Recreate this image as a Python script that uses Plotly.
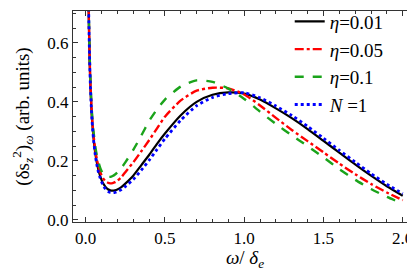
import plotly.graph_objects as go

x = [0.015, 0.0175, 0.02, 0.025, 0.03, 0.035, 0.04, 0.045, 0.05, 0.06, 0.07, 0.08, 0.09,
     0.1, 0.11, 0.125, 0.14, 0.155, 0.17, 0.185, 0.2, 0.225, 0.25, 0.3, 0.35, 0.4, 0.45,
     0.5, 0.6, 0.7, 0.8, 0.9, 1.0, 1.1, 1.2, 1.3, 1.4, 1.5, 1.6, 1.7, 1.8, 1.9, 2.0]

eta_001 = [0.90, 0.77, 0.675, 0.54, 0.45, 0.39, 0.34, 0.305, 0.275, 0.228, 0.195, 0.17, 0.151,
           0.136, 0.124, 0.112, 0.104, 0.1, 0.099, 0.1, 0.103, 0.111, 0.123, 0.15, 0.185, 0.22, 0.258,
           0.293, 0.355, 0.400, 0.424, 0.432, 0.428, 0.408, 0.378, 0.345, 0.308, 0.268, 0.228, 0.188,
           0.150, 0.114, 0.082]

eta_005 = [0.91, 0.78, 0.685, 0.55, 0.46, 0.40, 0.35, 0.315, 0.285, 0.24, 0.207, 0.183, 0.165,
           0.151, 0.141, 0.131, 0.126, 0.124, 0.125, 0.128, 0.133, 0.145, 0.162, 0.195, 0.232, 0.27, 0.31,
           0.35, 0.405, 0.438, 0.448, 0.446, 0.425, 0.388, 0.346, 0.305, 0.267, 0.229, 0.191, 0.155,
           0.122, 0.093, 0.067]

eta_01 = [0.92, 0.79, 0.695, 0.56, 0.47, 0.41, 0.36, 0.325, 0.297, 0.252, 0.22, 0.197, 0.179,
          0.166, 0.157, 0.149, 0.146, 0.146, 0.149, 0.154, 0.161, 0.176, 0.195, 0.237, 0.285, 0.335, 0.375,
          0.408, 0.452, 0.473, 0.468, 0.445, 0.41, 0.367, 0.325, 0.287, 0.25, 0.212, 0.172, 0.136,
          0.105, 0.078, 0.055]

n_1 = [0.90, 0.77, 0.675, 0.54, 0.45, 0.388, 0.337, 0.3, 0.27, 0.222, 0.188, 0.163, 0.144,
       0.129, 0.117, 0.105, 0.097, 0.093, 0.092, 0.093, 0.096, 0.103, 0.113, 0.137, 0.168, 0.202, 0.239,
       0.275, 0.338, 0.387, 0.415, 0.428, 0.431, 0.414, 0.386, 0.354, 0.317, 0.277, 0.236, 0.196,
       0.157, 0.121, 0.089]

names = ["<i>η</i>=0.01", "<i>η</i>=0.05", "<i>η</i>=0.1", "<i>N</i> =1"]
series = [eta_001, eta_005, eta_01, n_1]
colors = ["#000000", "#ff0000", "#1aa31a", "#0000ff"]
dashes = ["solid", "dashdot", "dash", "dot"]
widths = [2.2, 2.4, 2.4, 2.8]

FONT = "Liberation Serif"

fig = go.Figure()
for nm, ys, c, d, w in zip(names, series, colors, dashes, widths):
    fig.add_trace(go.Scatter(x=x, y=ys, mode="lines", name=nm,
                             line=dict(color=c, dash=d, width=w, shape="spline", smoothing=0.6)))

axis_common = dict(showline=True, linecolor="#333", linewidth=1.2, mirror="allticks",
                   ticks="inside", ticklen=5, tickcolor="#333", showgrid=False, zeroline=False,
                   automargin=False,
                   tickfont=dict(family=FONT, size=17, color="#000"))

fig.update_xaxes(range=[-0.08, 2.09], tickvals=[0, 0.5, 1.0, 1.5, 2.0],
                 ticktext=["0.0", "0.5", "1.0", "1.5", "2.0"],
                 minor=dict(dtick=0.1, ticks="inside", ticklen=3, tickcolor="#333"),
                 title=dict(text="<i>ω</i>/ <i>δ<sub>e</sub></i>", font=dict(family=FONT, size=19, color="#000"), standoff=4),
                 **axis_common)
fig.update_yaxes(range=[-0.007, 0.708], tickvals=[0, 0.2, 0.4, 0.6],
                 ticktext=["0.0", "0.2", "0.4", "0.6"],
                 minor=dict(dtick=0.05, ticks="inside", ticklen=3, tickcolor="#333"),
                 title=dict(text="(δs<sub><i>z</i></sub><sup>2</sup>)<sub><i>ω</i></sub> (arb. units)",
                            font=dict(family=FONT, size=19, color="#000"), standoff=12),
                 **axis_common)

fig.update_layout(width=415, height=272, margin=dict(l=65, r=6, t=3, b=58, autoexpand=False),
                  font=dict(family=FONT, color="#000"),
                  plot_bgcolor="white", paper_bgcolor="white",
                  legend=dict(x=0.63, y=1.04, xanchor="left", yanchor="top",
                              bgcolor="rgba(0,0,0,0)", font=dict(family=FONT, size=19, color="#000"),
                              itemwidth=30, tracegroupgap=0),
                  showlegend=True)

fig.write_html("out.html")
